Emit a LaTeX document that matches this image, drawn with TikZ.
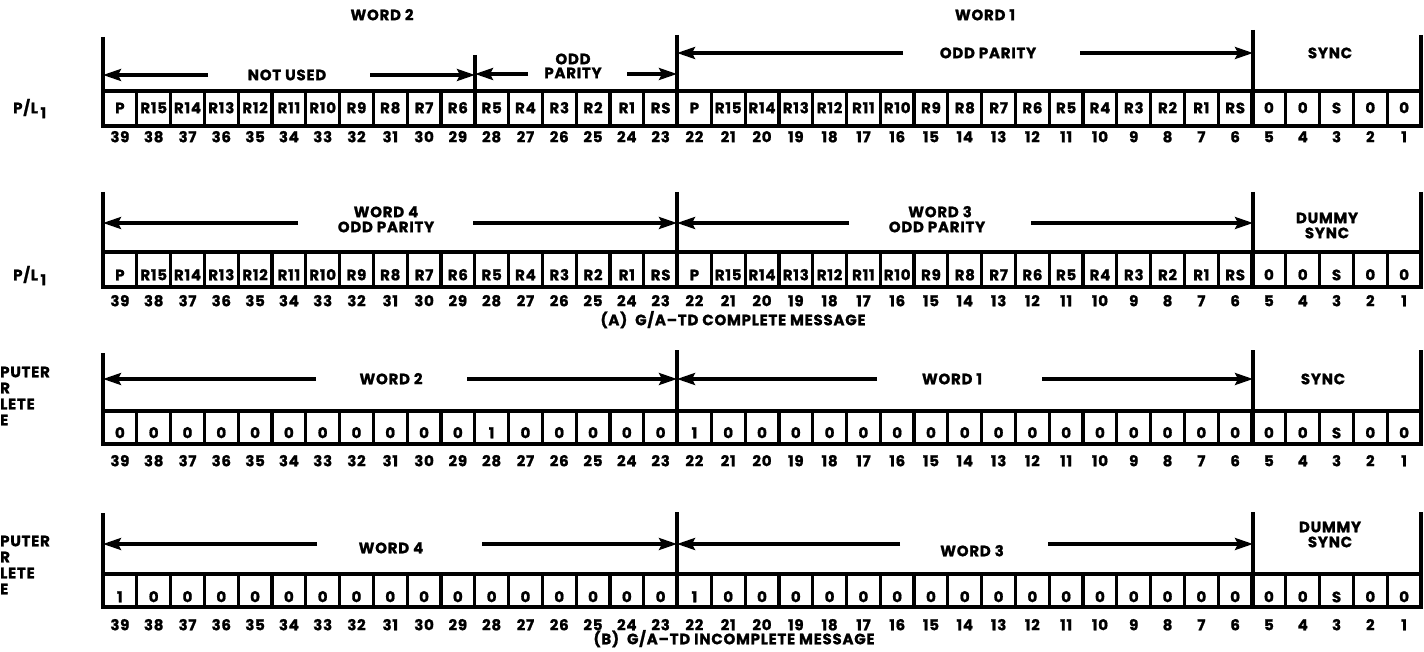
\documentclass[tikz,border=0pt]{standalone}
\usepackage{fontspec}
\setmainfont{Poppins}[LetterSpace=5, BoldFeatures={FakeBold=1.2}]
\usetikzlibrary{arrows.meta}
\tikzset{
  txt/.style={font=\fontsize{15}{16}\selectfont\bfseries, inner sep=0pt, text height=10.5pt, text depth=0pt},
  celltxt/.style={txt},
  numtxt/.style={txt},
  frame/.style={line width=4pt},
  divider/.style={line width=3.2pt},
  bracket/.style={line width=4pt},
  dim/.style={line width=3.2pt, -{Stealth[length=18pt,width=12pt,inset=3pt]}},
}
\newcommand\bitrow[6]{%
  \foreach \t [count=\i from 0] in {#6}{%
    \pgfmathsetmacro\xl{103+\i*33.795}%
    \pgfmathsetmacro\xc{\xl+16.9}%
    \pgfmathtruncatemacro\b{39-\i}%
    \ifnum\i>0 \draw[divider] (\xl,#2) -- (\xl,#3);\fi
    \node[celltxt] (#1c\b) at (\xc,#4) {\t};
    \node[numtxt] (#1n\b) at (\xc,#5) {\b};
  }
  \draw[frame] (103,#2) rectangle (1421,#3);
}
\newcommand\dimarrow[4]{%
  \coordinate (#1s) at (#3,#2);
  \coordinate (#1e) at (#4,#2);
  \draw[dim] (#1s) -- (#1e);
}
\begin{document}
\begin{tikzpicture}[x=1pt,y=-1pt]
\useasboundingbox (0,0) rectangle (1424,652);

% ---------- Row 1 ----------
\bitrow{a}{91}{126}{108}{137}{P,R15,R14,R13,R12,R11,R10,R9,R8,R7,R6,R5,R4,R3,R2,R1,RS,P,R15,R14,R13,R12,R11,R10,R9,R8,R7,R6,R5,R4,R3,R2,R1,RS,0,0,S,0,0}
\draw[bracket] (103,37) coordinate (av1) -- (103,126);
\draw[bracket] (475,55) coordinate (av2) -- (475,126);
\draw[bracket] (677,35) coordinate (av3) -- (677,126);
\draw[bracket] (1253,30) coordinate (av4) -- (1253,126);
\draw[bracket] (1421,35) coordinate (av5) -- (1421,126);
\dimarrow{a1}{75}{208}{103}
\dimarrow{a2}{75}{370}{475}
\dimarrow{a3}{74}{528}{475}
\dimarrow{a4}{74}{627}{677}
\dimarrow{a5}{53}{903}{677}
\dimarrow{a6}{53}{1080}{1253}
\node[txt] (aw2) at (382,15) {WORD 2};
\node[txt] (aw1) at (985,15) {WORD 1};
\node[txt] (anu) at (287,75) {NOT USED};
\node[txt] (aodd) at (573,59) {ODD};
\node[txt] (apar) at (573,73) {PARITY};
\node[txt] (aop) at (988,53) {ODD PARITY};
\node[txt] (async) at (1330,53) {SYNC};
\node[txt, anchor=west] (apl) at (13,108) {P/L\raisebox{-5pt}{\,1}};

% ---------- Row 2 ----------
\bitrow{b}{252}{287}{275}{301}{P,R15,R14,R13,R12,R11,R10,R9,R8,R7,R6,R5,R4,R3,R2,R1,RS,P,R15,R14,R13,R12,R11,R10,R9,R8,R7,R6,R5,R4,R3,R2,R1,RS,0,0,S,0,0}
\draw[bracket] (103,192) coordinate (bv1) -- (103,287);
\draw[bracket] (677,192) coordinate (bv2) -- (677,287);
\draw[bracket] (1253,192) coordinate (bv3) -- (1253,287);
\draw[bracket] (1421,192) coordinate (bv4) -- (1421,287);
\dimarrow{b1}{223}{298}{103}
\dimarrow{b2}{223}{473}{677}
\dimarrow{b3}{223}{849}{677}
\dimarrow{b4}{223}{1031}{1253}
\node[txt] (bw4) at (386,212) {WORD 4};
\node[txt] (bop4) at (386,227) {ODD PARITY};
\node[txt] (bw3) at (940,212) {WORD 3};
\node[txt] (bop3) at (937,227) {ODD PARITY};
\node[txt] (bdum) at (1327,218) {DUMMY};
\node[txt] (bsync) at (1327,233) {SYNC};
\node[txt, anchor=west] (bpl) at (13,275) {P/L\raisebox{-5pt}{\,1}};
\node[txt] (capA) at (733,320) {(A)\ \ G/A–TD COMPLETE MESSAGE};

% ---------- Row 3 ----------
\bitrow{c}{411}{444}{433}{461}{0,0,0,0,0,0,0,0,0,0,0,1,0,0,0,0,0,1,0,0,0,0,0,0,0,0,0,0,0,0,0,0,0,0,0,0,S,0,0}
\draw[bracket] (103,353) coordinate (cv1) -- (103,444);
\draw[bracket] (677,350) coordinate (cv2) -- (677,444);
\draw[bracket] (1253,350) coordinate (cv3) -- (1253,444);
\draw[bracket] (1421,350) coordinate (cv4) -- (1421,444);
\dimarrow{c1}{379}{316}{103}
\dimarrow{c2}{379}{467}{677}
\dimarrow{c3}{379}{877}{677}
\dimarrow{c4}{379}{1042}{1253}
\node[txt] (cw2) at (391,379) {WORD 2};
\node[txt] (cw1) at (952,379) {WORD 1};
\node[txt] (csync) at (1323,379) {SYNC};
\node[txt, anchor=west] (cl1) at (0,372) {PUTER};
\node[txt, anchor=west] (cl2) at (0,388) {R};
\node[txt, anchor=west] (cl3) at (0,404) {LETE};
\node[txt, anchor=west] (cl4) at (0,420) {E};

% ---------- Row 4 ----------
\bitrow{d}{574}{607}{597}{625}{1,0,0,0,0,0,0,0,0,0,0,0,0,0,0,0,0,1,0,0,0,0,0,0,0,0,0,0,0,0,0,0,0,0,0,0,S,0,0}
\draw[bracket] (103,513) coordinate (dv1) -- (103,607);
\draw[bracket] (677,512) coordinate (dv2) -- (677,607);
\draw[bracket] (1253,512) coordinate (dv3) -- (1253,607);
\draw[bracket] (1421,512) coordinate (dv4) -- (1421,607);
\dimarrow{d1}{544}{317}{103}
\dimarrow{d2}{544}{482}{677}
\dimarrow{d3}{544}{900}{677}
\dimarrow{d4}{544}{1048}{1253}
\node[txt] (dw4) at (391,548) {WORD 4};
\node[txt] (dw3) at (972,551) {WORD 3};
\node[txt] (ddum) at (1330,527) {DUMMY};
\node[txt] (dsync) at (1330,542) {SYNC};
\node[txt, anchor=west] (dl1) at (0,541) {PUTER};
\node[txt, anchor=west] (dl2) at (0,557) {R};
\node[txt, anchor=west] (dl3) at (0,573) {LETE};
\node[txt, anchor=west] (dl4) at (0,589) {E};
\node[txt] (capB) at (734,639) {(B)\ \ G/A–TD INCOMPLETE MESSAGE};
\end{tikzpicture}
\end{document}
